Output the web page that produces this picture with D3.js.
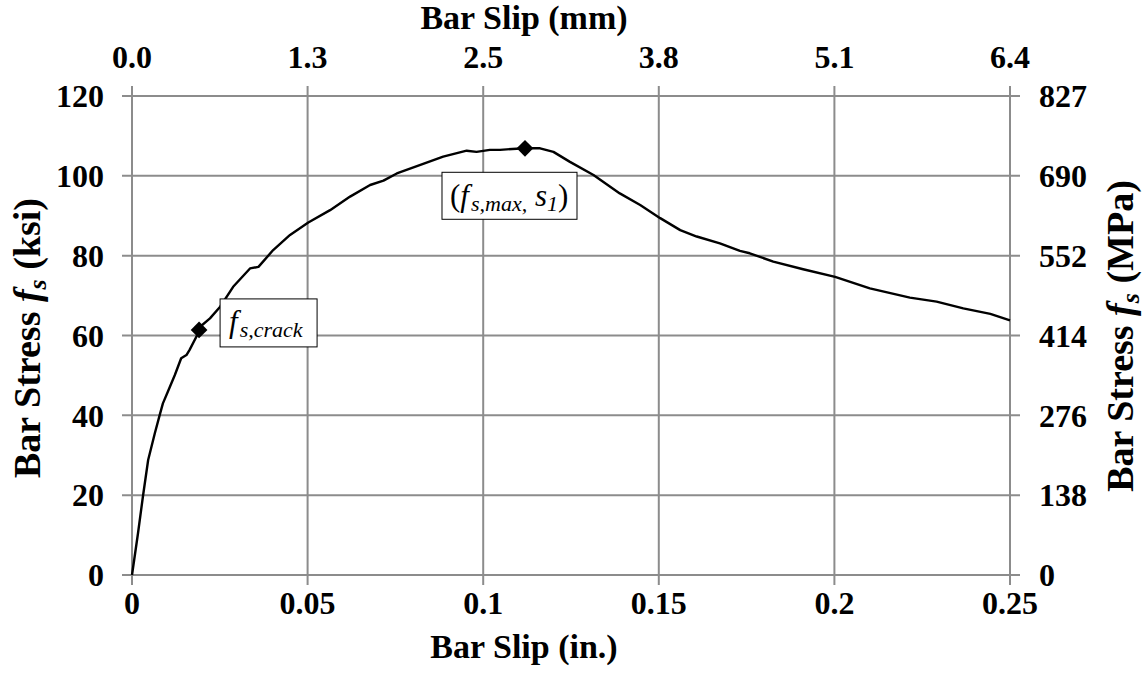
<!DOCTYPE html>
<html>
<head>
<meta charset="utf-8">
<script src="https://cdn.jsdelivr.net/npm/d3@7"></script>
<style>
  html, body { margin: 0; padding: 0; background: #fff; }
  svg { display: block; }
</style>
</head>
<body>
<svg id="chart" width="1146" height="676" font-family="'Liberation Serif', 'Times New Roman', Times, serif"></svg>
<script>
// Measured bar slip (in.) and bar stress (ksi)
const slipIn = [0, 0.0017, 0.0031, 0.0046, 0.0065, 0.0079, 0.0088, 0.0102, 0.0122, 0.0140, 0.0155, 0.0164,
  0.0188, 0.0194, 0.0222, 0.0251, 0.0288, 0.0336, 0.0360, 0.0402, 0.0450, 0.0502, 0.0564, 0.0621, 0.0678,
  0.0716, 0.0754, 0.0829, 0.0886, 0.0953, 0.0981, 0.1019, 0.1048, 0.1095, 0.1119, 0.1162, 0.1200, 0.1247,
  0.1314, 0.1389, 0.1447, 0.1504, 0.1561, 0.1608, 0.1674, 0.1731, 0.1759, 0.1826, 0.1911, 0.2002, 0.2101,
  0.2215, 0.2291, 0.2367, 0.2444, 0.2500];
const stressKsi = [0, 10.4, 19.6, 28.8, 35.5, 40.1, 43.0, 45.9, 50.1, 54.3, 55.1, 56.4,
  60.5, 62.2, 64.3, 67.2, 72.2, 76.8, 77.2, 81.4, 85.2, 88.3, 91.4, 94.8, 97.7,
  98.8, 100.6, 103.0, 104.8, 106.3, 106.0, 106.5, 106.5, 106.8, 106.9, 106.9, 106.0, 103.5,
  100.2, 95.6, 92.7, 89.4, 86.4, 84.8, 83.1, 81.2, 80.6, 78.5, 76.6, 74.7, 71.8,
  69.5, 68.5, 66.8, 65.4, 63.8];

// Key points: cracking stress and peak stress
const crackPoint = { slip: 0.0191, stress: 61.4 };
const peakPoint = { slip: 0.1119, stress: 106.9 };

// Axis ticks
const xTicks = [0, 0.05, 0.1, 0.15, 0.2, 0.25];
const xTickLabels = ["0", "0.05", "0.1", "0.15", "0.2", "0.25"];
const mmTickLabels = ["0.0", "1.3", "2.5", "3.8", "5.1", "6.4"];
const yTicks = [0, 20, 40, 60, 80, 100, 120];
const mpaTickLabels = ["0", "138", "276", "414", "552", "690", "827"];

const svg = d3.select("#chart");
const plotL = 132, plotR = 1010, plotT = 96, plotB = 575;

const x = d3.scaleLinear().domain([0, 0.25]).range([plotL, plotR]);
const y = d3.scaleLinear().domain([0, 120]).range([plotB, plotT]);

const gridColor = "#8c8c8c";
const tickLen = 10;

// Grid lines (also form the plot frame)
const grid = svg.append("g").attr("stroke", gridColor).attr("stroke-width", 2);
grid.selectAll("line.v").data(xTicks).join("line").attr("class", "v")
  .attr("x1", d => x(d)).attr("x2", d => x(d))
  .attr("y1", plotT - tickLen).attr("y2", plotB + tickLen);
grid.selectAll("line.h").data(yTicks).join("line").attr("class", "h")
  .attr("x1", plotL - tickLen).attr("x2", plotR + tickLen)
  .attr("y1", d => y(d)).attr("y2", d => y(d));

const tickSize = "32px";
const titleSize = "34px";
const sideTitleSize = "38px";
const titleCenterX = 524;

// Bottom axis labels (in.)
svg.append("g").selectAll("text").data(xTicks).join("text")
  .attr("x", d => x(d)).attr("y", plotB + 39)
  .attr("text-anchor", "middle")
  .attr("font-size", tickSize).attr("font-weight", "bold")
  .text((d, i) => xTickLabels[i]);

// Top axis labels (mm)
svg.append("g").selectAll("text").data(xTicks).join("text")
  .attr("x", d => x(d)).attr("y", plotT - 28)
  .attr("text-anchor", "middle")
  .attr("font-size", tickSize).attr("font-weight", "bold")
  .text((d, i) => mmTickLabels[i]);

// Left axis labels (ksi)
svg.append("g").selectAll("text").data(yTicks).join("text")
  .attr("x", plotL - 28).attr("y", d => y(d)).attr("dy", "0.35em")
  .attr("text-anchor", "end")
  .attr("font-size", tickSize).attr("font-weight", "bold")
  .text(d => d);

// Right axis labels (MPa)
svg.append("g").selectAll("text").data(yTicks).join("text")
  .attr("x", plotR + 29).attr("y", d => y(d)).attr("dy", "0.35em")
  .attr("text-anchor", "start")
  .attr("font-size", tickSize).attr("font-weight", "bold")
  .text((d, i) => mpaTickLabels[i]);

// Axis titles
svg.append("text").attr("x", titleCenterX).attr("y", 658)
  .attr("text-anchor", "middle").attr("font-size", titleSize).attr("font-weight", "bold")
  .text("Bar Slip (in.)");
svg.append("text").attr("x", titleCenterX).attr("y", 29)
  .attr("text-anchor", "middle").attr("font-size", titleSize).attr("font-weight", "bold")
  .text("Bar Slip (mm)");

function stressTitle(cx, cy, unit) {
  const t = svg.append("text")
    .attr("transform", `translate(${cx},${cy}) rotate(-90)`)
    .attr("text-anchor", "middle").attr("font-size", sideTitleSize).attr("font-weight", "bold");
  t.append("tspan").text("Bar Stress ");
  t.append("tspan").attr("font-style", "italic").text("f");
  t.append("tspan").attr("font-style", "italic").attr("font-size", "26px").attr("dy", 6).text("s");
  t.append("tspan").attr("dy", -6).text(" (" + unit + ")");
}
stressTitle(40, 338, "ksi");
stressTitle(1133, 336, "MPa");

// Stress–slip curve
const pts = slipIn.map((s, i) => [s, stressKsi[i]]);
svg.append("path").datum(pts)
  .attr("fill", "none").attr("stroke", "#000").attr("stroke-width", 2.4)
  .attr("stroke-linejoin", "round")
  .attr("d", d3.line().x(d => x(d[0])).y(d => y(d[1])));

// Diamond markers
const diamond = d3.symbol().type(d3.symbolSquare).size(140);
svg.append("g").selectAll("path").data([crackPoint, peakPoint]).join("path")
  .attr("d", diamond)
  .attr("transform", d => `translate(${x(d.slip)},${y(d.stress)}) rotate(45)`)
  .attr("fill", "#000");

// Annotation boxes
function labelBox(bx, by, bw, bh) {
  svg.append("rect").attr("x", bx).attr("y", by).attr("width", bw).attr("height", bh)
    .attr("fill", "#fff").attr("stroke", "#000").attr("stroke-width", 1);
}

labelBox(x(crackPoint.slip) + 21, y(crackPoint.stress) - 31, 97, 48);
const t1 = svg.append("text")
  .attr("x", x(crackPoint.slip) + 30).attr("y", y(crackPoint.stress) + 2)
  .attr("font-size", "31px").attr("font-style", "italic");
t1.append("tspan").text("f");
t1.append("tspan").attr("font-size", "22px").attr("dy", 5).attr("dx", 2).text("s,crack");

labelBox(x(peakPoint.slip) - 83, y(peakPoint.stress) + 24, 135, 47);
const t2 = svg.append("text")
  .attr("x", x(peakPoint.slip) - 75).attr("y", y(peakPoint.stress) + 58)
  .attr("font-size", "31px");
t2.append("tspan").text("(");
t2.append("tspan").attr("font-style", "italic").text("f");
t2.append("tspan").attr("font-style", "italic").attr("font-size", "22px").attr("dy", 5).attr("dx", 2).text("s,max,");
t2.append("tspan").attr("font-style", "italic").attr("dy", -5).text(" s");
t2.append("tspan").attr("font-style", "italic").attr("font-size", "22px").attr("dy", 5).text("1");
t2.append("tspan").attr("dy", -5).text(")");
</script>
</body>
</html>
